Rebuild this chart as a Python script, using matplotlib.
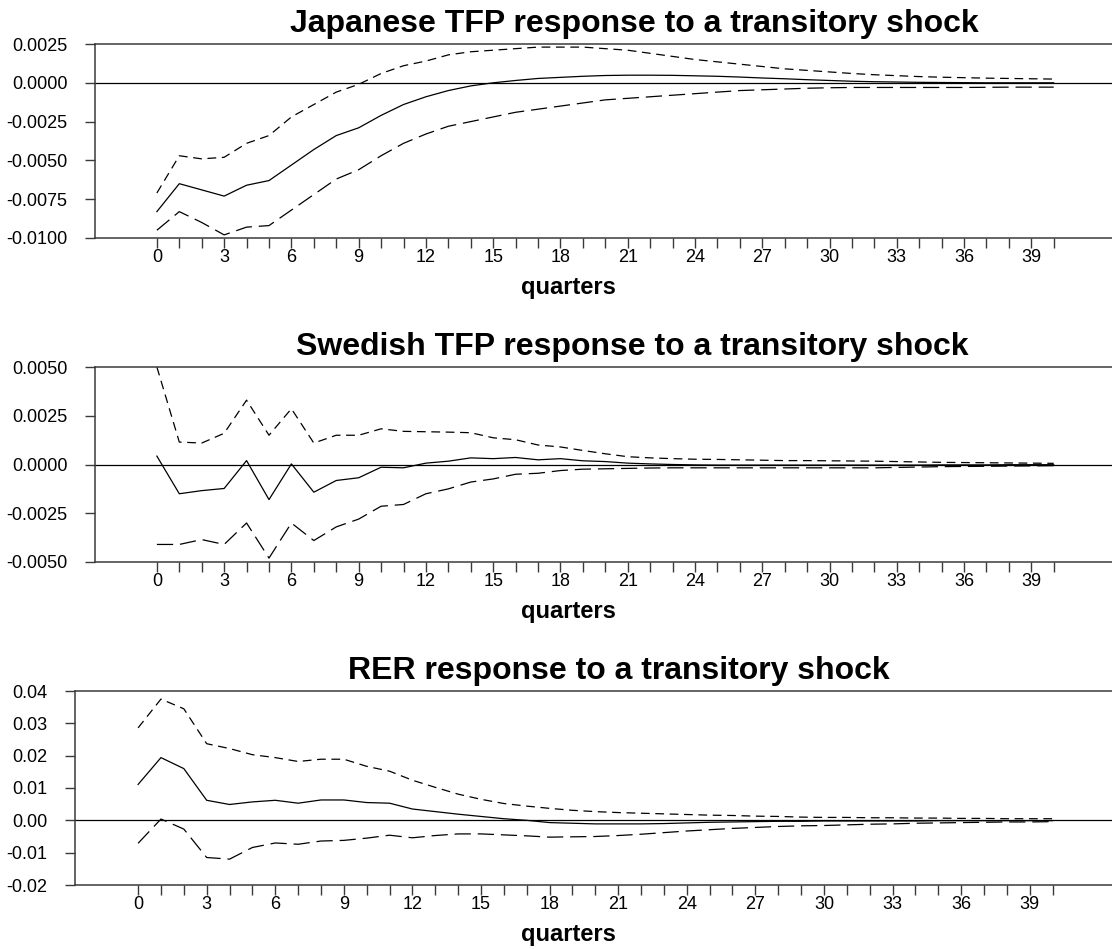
"""Impulse responses to a transitory shock: Japanese TFP, Swedish TFP and RER.

Three stacked panels, each showing the point response (solid) with the
upper (short dash) and lower (long dash) bands over 0-40 quarters.
"""

import matplotlib

matplotlib.use("Agg")
import matplotlib.pyplot as plt
from matplotlib.ticker import FixedLocator, FormatStrFormatter

QUARTERS = list(range(41))

JAPAN_RESPONSE = [
    -0.0083, -0.0065, -0.0069, -0.0073, -0.0066, -0.0063, -0.0053, -0.0043,
    -0.0034, -0.0029, -0.0021, -0.0014, -0.0009, -0.0005, -0.0002, 0.0000,
    0.00015, 0.00028, 0.00035, 0.00042, 0.00047, 0.00049, 0.00049, 0.00048,
    0.00045, 0.00042, 0.00037, 0.00031, 0.00026, 0.00020, 0.00015, 0.00010,
    0.00007, 0.00005, 0.00003, 0.00002, 0.00001, 0.0, 0.0, 0.0, 0.0,
]
JAPAN_UPPER = [
    -0.0071, -0.0047, -0.0049, -0.0048, -0.0039, -0.0034, -0.0022, -0.0014,
    -0.0006, -0.0001, 0.0006, 0.0011, 0.0014, 0.0018, 0.0020, 0.0021,
    0.0022, 0.0023, 0.0023, 0.0023, 0.0022, 0.0021, 0.0019, 0.0017,
    0.0015, 0.00135, 0.0012, 0.00105, 0.0009, 0.0008, 0.0007, 0.0006,
    0.00052, 0.00046, 0.0004, 0.00036, 0.00033, 0.0003, 0.00028, 0.00026, 0.00024,
]
JAPAN_LOWER = [
    -0.0095, -0.0083, -0.0090, -0.0098, -0.0093, -0.0092, -0.0082, -0.0072,
    -0.0062, -0.0056, -0.0047, -0.0039, -0.0033, -0.0028, -0.0025, -0.0022,
    -0.0019, -0.0017, -0.0015, -0.0013, -0.0011, -0.0010, -0.0009, -0.0008,
    -0.0007, -0.0006, -0.0005, -0.00045, -0.0004, -0.00035, -0.00032, -0.0003,
    -0.0003, -0.0003, -0.0003, -0.0003, -0.0003, -0.00029, -0.00028, -0.00028, -0.00028,
]

SWEDEN_RESPONSE = [
    0.00043, -0.0015, -0.00134, -0.00123, 0.0002, -0.0018, 0.00003, -0.00142,
    -0.00082, -0.00068, -0.00014, -0.00017, 0.00007, 0.00017, 0.00034, 0.0003,
    0.00036, 0.00024, 0.0003, 0.00019, 0.00015, 0.00007, 0.00003, 0.0,
    -0.00002, -0.00003, -0.00003, -0.00003, -0.00003, -0.00003, -0.00003, -0.00003,
    -0.00003, -0.00003, -0.00003, -0.00002, -0.00002, -0.00002, -0.00001, -0.00001, -0.00001,
]
SWEDEN_UPPER = [
    0.0050, 0.00115, 0.0011, 0.0016, 0.0033, 0.0015, 0.00286, 0.0011,
    0.0015, 0.0015, 0.00183, 0.0017, 0.00168, 0.00166, 0.00163, 0.00137,
    0.00127, 0.0010, 0.0009, 0.00072, 0.00055, 0.0004, 0.00034, 0.0003,
    0.00027, 0.00026, 0.00024, 0.00022, 0.0002, 0.0002, 0.00019, 0.00018,
    0.00017, 0.00015, 0.00013, 0.00011, 0.0001, 0.00009, 0.00008, 0.00007, 0.00006,
]
SWEDEN_LOWER = [
    -0.0041, -0.0041, -0.00385, -0.0041, -0.0030, -0.0048, -0.0030, -0.0039,
    -0.0032, -0.0028, -0.00214, -0.00205, -0.0015, -0.00125, -0.0009, -0.00074,
    -0.0005, -0.00045, -0.00031, -0.00024, -0.00022, -0.0002, -0.00018, -0.00017,
    -0.00017, -0.00017, -0.00017, -0.00017, -0.00017, -0.00017, -0.00017, -0.00017,
    -0.00017, -0.00015, -0.00013, -0.00011, -0.0001, -0.00009, -0.00008, -0.00007, -0.00006,
]

RER_RESPONSE = [
    0.0111, 0.0194, 0.0160, 0.0062, 0.0049, 0.0057, 0.0062, 0.0053,
    0.0063, 0.0063, 0.0055, 0.0053, 0.0035, 0.0027, 0.0019, 0.0012,
    0.0005, 0.0000, -0.0007, -0.0009, -0.0011, -0.0011, -0.0011, -0.0010,
    -0.0008, -0.0006, -0.0005, -0.0004, -0.0003, -0.0003, -0.0002, -0.0002,
    -0.0002, -0.0002, -0.0002, -0.0001, -0.0001, -0.0001, -0.0001, -0.0001, -0.0001,
]
RER_UPPER = [
    0.0286, 0.0375, 0.0345, 0.0237, 0.0222, 0.0203, 0.0194, 0.0182,
    0.0189, 0.0189, 0.0167, 0.0152, 0.0124, 0.0102, 0.0081, 0.0065,
    0.0052, 0.0044, 0.0037, 0.0031, 0.0027, 0.0024, 0.0022, 0.0020,
    0.0018, 0.0016, 0.0015, 0.0013, 0.0012, 0.0010, 0.0009, 0.0009,
    0.0008, 0.0008, 0.0007, 0.0007, 0.0006, 0.0006, 0.0005, 0.0005, 0.0005,
]
RER_LOWER = [
    -0.0071, 0.0004, -0.0027, -0.0115, -0.0120, -0.0084, -0.0070, -0.0074,
    -0.0064, -0.0062, -0.0055, -0.0046, -0.0054, -0.0047, -0.0042, -0.0042,
    -0.0045, -0.0048, -0.0052, -0.0051, -0.0050, -0.0047, -0.0043, -0.0038,
    -0.0033, -0.0029, -0.0025, -0.0022, -0.0019, -0.0017, -0.0016, -0.0014,
    -0.0012, -0.0011, -0.0009, -0.0008, -0.0007, -0.0006, -0.0005, -0.0005, -0.0004,
]

TITLES = [
    "Japanese TFP response to a transitory shock",
    "Swedish TFP response to a transitory shock",
    "RER response to a transitory shock",
]
Y_TICKS = [
    [0.0025, 0.0, -0.0025, -0.0050, -0.0075, -0.0100],
    [0.0050, 0.0025, 0.0, -0.0025, -0.0050],
    [0.04, 0.03, 0.02, 0.01, 0.0, -0.01, -0.02],
]
Y_FORMATS = ["%.4f", "%.4f", "%.2f"]
X_LABEL = "quarters"

# panel geometry in pixels: left spine x, top spine y, bottom spine y
FIG_W, FIG_H = 1112, 949
PANEL_BOXES = [(95, 44, 238), (95, 367, 562), (75, 691, 885)]
TITLE_CENTERS = [634, 632, 619]
XLABEL_CENTER = 568

plt.rcParams["font.family"] = ["Liberation Sans", "DejaVu Sans"]
plt.rcParams["axes.unicode_minus"] = False

SPINE_COLOR = "#3a3a3a"


def draw_panel(figure, box, title_x, title, response, upper, lower, y_ticks, y_format):
    left, top, bottom = box
    axes = figure.add_axes([
        left / FIG_W,
        1 - bottom / FIG_H,
        1 - left / FIG_W,
        (bottom - top) / FIG_H,
    ])
    axes.axhline(0.0, color="black", linewidth=0.9, zorder=1)
    axes.plot(QUARTERS, response, color="black", linewidth=0.9)
    axes.plot(QUARTERS, upper, color="black", linewidth=0.9,
              linestyle=(0, (7.0, 4.5)))
    axes.plot(QUARTERS, lower, color="black", linewidth=0.9,
              linestyle=(0, (13.0, 5.5)))

    axes.set_xlim(-2.76, 42.6)
    axes.set_ylim(min(y_ticks), max(y_ticks))

    axes.xaxis.set_major_locator(FixedLocator(list(range(0, 40, 3))))
    axes.xaxis.set_minor_locator(FixedLocator(QUARTERS))
    axes.yaxis.set_major_locator(FixedLocator(y_ticks))
    axes.yaxis.set_major_formatter(FormatStrFormatter(y_format))
    axes.tick_params(axis="both", which="both", direction="out", length=7.2,
                     width=1.0, color=SPINE_COLOR, labelsize=13)
    axes.tick_params(axis="x", which="both", pad=0.5, top=False)
    axes.tick_params(axis="y", pad=12.5, right=False)

    axes.spines["right"].set_visible(False)
    for name in ("left", "top", "bottom"):
        axes.spines[name].set_color(SPINE_COLOR)
        axes.spines[name].set_linewidth(1.1)

    figure.text(title_x / FIG_W, 1 - (top - 12) / FIG_H, title,
                ha="center", va="baseline", fontsize=23, fontweight="bold")
    figure.text(XLABEL_CENTER / FIG_W, 1 - (bottom + 56) / FIG_H, X_LABEL,
                ha="center", va="baseline", fontsize=17, fontweight="bold")
    return axes


def main():
    figure = plt.figure(figsize=(FIG_W / 100, FIG_H / 100), dpi=100)
    series = [
        (JAPAN_RESPONSE, JAPAN_UPPER, JAPAN_LOWER),
        (SWEDEN_RESPONSE, SWEDEN_UPPER, SWEDEN_LOWER),
        (RER_RESPONSE, RER_UPPER, RER_LOWER),
    ]
    for index, (response, upper, lower) in enumerate(series):
        draw_panel(figure, PANEL_BOXES[index], TITLE_CENTERS[index],
                   TITLES[index], response, upper, lower,
                   Y_TICKS[index], Y_FORMATS[index])
    figure.savefig("out.png", dpi=100)
    plt.close(figure)


if __name__ == "__main__":
    main()
